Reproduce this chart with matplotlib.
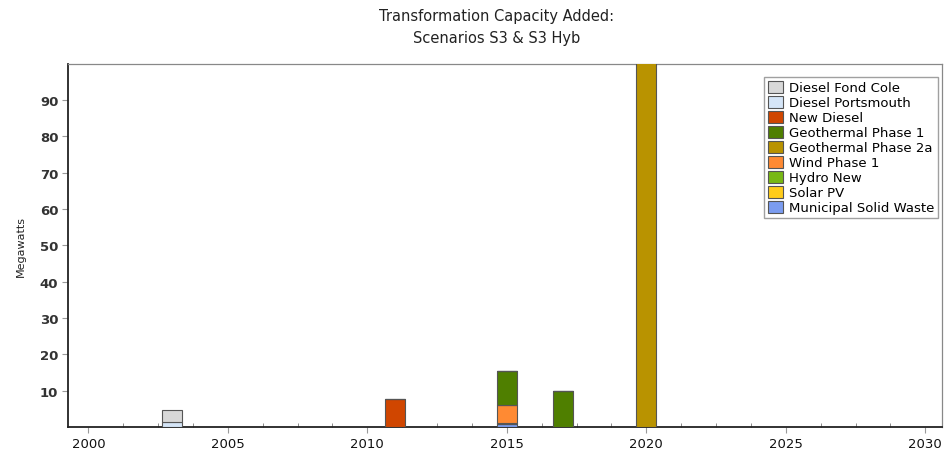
import matplotlib
matplotlib.use("Agg")
import matplotlib.pyplot as plt
from matplotlib.ticker import MultipleLocator, FixedLocator
import numpy as np

# Capacity additions (MW) by year, one list per resource
years = [2003, 2011, 2015, 2017, 2020]
diesel_fond_cole = [3.3, 0, 0, 0, 0]
diesel_portsmouth = [1.5, 0, 0, 0, 0]
new_diesel = [0, 7.7, 0, 0, 0]
geothermal_phase_1 = [0, 0, 9.5, 9.8, 0]
geothermal_phase_2a = [0, 0, 0, 0, 110]
wind_phase_1 = [0, 0, 4.8, 0, 0]
hydro_new = [0, 0, 0.4, 0, 0]
solar_pv = [0, 0, 0, 0, 0]
municipal_solid_waste = [0, 0, 0.8, 0, 0]

series_names = ["Diesel Fond Cole", "Diesel Portsmouth", "New Diesel",
                "Geothermal Phase 1", "Geothermal Phase 2a", "Wind Phase 1",
                "Hydro New", "Solar PV", "Municipal Solid Waste"]
series_values = [diesel_fond_cole, diesel_portsmouth, new_diesel,
                 geothermal_phase_1, geothermal_phase_2a, wind_phase_1,
                 hydro_new, solar_pv, municipal_solid_waste]
series_colors = ["#d8d8d8", "#d5e5f7", "#d04600", "#4f7f00", "#b99300",
                 "#ff8a33", "#78b814", "#ffcc1a", "#7b9cf0"]

y_ticks = [10, 20, 30, 40, 50, 60, 70, 80, 90]
x_ticks = [2000, 2005, 2010, 2015, 2020, 2025, 2030]

fig = plt.figure(figsize=(9.44, 4.56), dpi=100)
ax = fig.add_axes([68 / 944, 1 - 428 / 456, (942 - 68) / 944, (428 - 65) / 456])

# Stack from the bottom in reverse legend order
bottom = np.zeros(len(years))
handles = {}
for name, vals, col in reversed(list(zip(series_names, series_values, series_colors))):
    vals = np.array(vals, dtype=float)
    h = ax.bar(years, vals, width=0.72, bottom=bottom, color=col,
               edgecolor="#555555", linewidth=0.8, zorder=3)
    handles[name] = h
    bottom += vals

ax.set_xlim(1999.27, 2030.6)
ax.set_ylim(0, 99.9)

ax.yaxis.set_major_locator(FixedLocator(y_ticks))
ax.xaxis.set_major_locator(FixedLocator(x_ticks))
ax.xaxis.set_minor_locator(MultipleLocator(1.25))
ax.tick_params(axis="x", which="major", direction="out", length=4,
               color="#999999", labelsize=9.5, pad=3, labelcolor="#111111")
ax.tick_params(axis="x", which="minor", direction="in", length=3, color="#777777")
ax.tick_params(axis="y", which="major", direction="out", length=4,
               color="#999999", labelsize=9.5, pad=3, labelcolor="#222222")
for lbl in ax.get_yticklabels():
    lbl.set_fontweight("bold")
    lbl.set_color("#333333")

for side in ["left", "bottom"]:
    ax.spines[side].set_color("#222222")
    ax.spines[side].set_linewidth(1.3)
for side in ["top", "right"]:
    ax.spines[side].set_color("#888888")
    ax.spines[side].set_linewidth(0.9)

ax.set_ylabel("Megawatts", fontsize=8, labelpad=10, color="#222222")

fig.text(497 / 944, 1 - 17 / 456, "Transformation Capacity Added:",
         ha="center", va="center", fontsize=10.5, color="#222222")
fig.text(497 / 944, 1 - 38 / 456, "Scenarios S3 & S3 Hyb",
         ha="center", va="center", fontsize=10.5, color="#222222")

leg = ax.legend([handles[n] for n in series_names], series_names,
                loc="upper right", bbox_to_anchor=(1.0, 0.975),
                fontsize=9.5, frameon=True, fancybox=False,
                edgecolor="#888888", borderpad=0.3, labelspacing=0.12,
                handlelength=1.1, handleheight=1.0, handletextpad=0.45,
                borderaxespad=0.3)
leg.get_frame().set_linewidth(1.0)
leg.set_zorder(5)

fig.savefig("out.png", dpi=100)
